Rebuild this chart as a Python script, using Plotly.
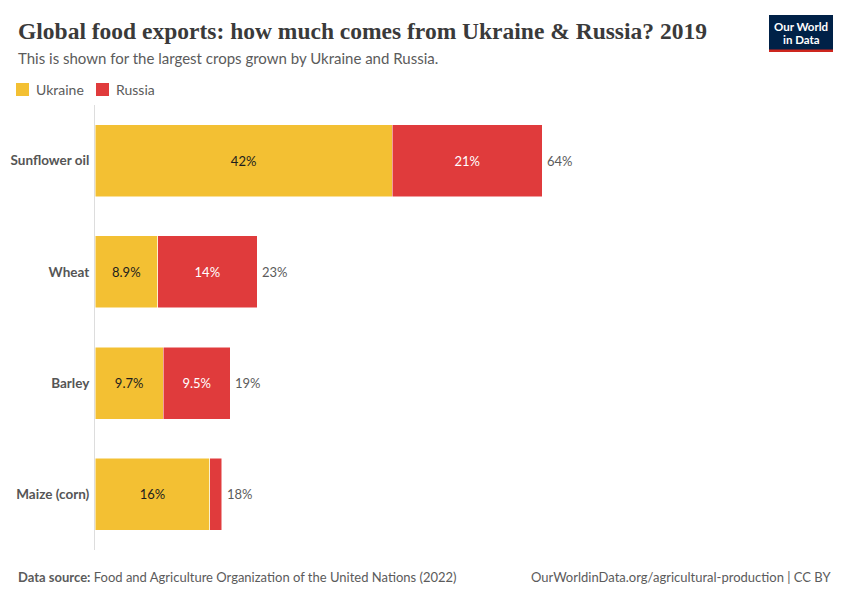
import plotly.graph_objects as go

crops = ["Sunflower oil", "Wheat", "Barley", "Maize (corn)"]
ukraine = [42.4, 8.92, 9.74, 16.4]
russia = [21.4, 14.2, 9.54, 1.65]

UA_COL = "#F3C033"
RU_COL = "#E03B3C"

L, R, T, B = 95, 54, 105, 50
W, H = 850, 600


def px(x):  # pixel -> paper x
    return (x - L) / (W - L - R)


def py(y):  # pixel -> paper y
    return (H - B - y) / (H - T - B)


def fmt(v):
    # two significant figures like the original labels
    return f"{v:.1f}%" if v < 10 else f"{v:.0f}%"


totals = [u + r for u, r in zip(ukraine, russia)]

fig = go.Figure()
fig.add_trace(go.Bar(
    y=crops, x=ukraine, orientation="h", name="Ukraine",
    marker=dict(color=UA_COL, line=dict(width=0.5, color="#ffffff")),
    text=[fmt(v) for v in ukraine], textposition="inside",
    insidetextanchor="middle", textfont=dict(color="#1d1d1d", size=13, family="Lato"),
))
fig.add_trace(go.Bar(
    y=crops, x=russia, orientation="h", name="Russia",
    marker=dict(color=RU_COL, line=dict(width=0.5, color="#ffffff")),
    text=[fmt(v) for v in russia], textposition="inside",
    insidetextanchor="middle", textfont=dict(color="#ffffff", size=13, family="Lato"),
))

# total labels to the right of each bar
for c, t in zip(crops, totals):
    fig.add_annotation(x=t, y=c, text=fmt(t), showarrow=False, xanchor="left",
                       xshift=3, font=dict(size=13, color="#5b5b5b", family="Lato"))

# title, subtitle
fig.add_annotation(x=px(16), y=py(31), xref="paper", yref="paper", xanchor="left",
                   yanchor="middle", showarrow=False,
                   text="<b>Global food exports: how much comes from Ukraine &amp; Russia? 2019</b>",
                   font=dict(family="Liberation Serif", size=23.5, color="#3a3a3a"))
fig.add_annotation(x=px(16), y=py(58), xref="paper", yref="paper", xanchor="left",
                   yanchor="middle", showarrow=False,
                   text="This is shown for the largest crops grown by Ukraine and Russia.",
                   font=dict(family="Lato", size=15, color="#5b5b5b"))

# legend
for x0, col, name in [(16, UA_COL, "Ukraine"), (96, RU_COL, "Russia")]:
    fig.add_shape(type="rect", xref="paper", yref="paper",
                  x0=px(x0), x1=px(x0 + 13), y0=py(96), y1=py(83),
                  fillcolor=col, line=dict(width=0))
    fig.add_annotation(x=px(x0 + 18), y=py(89.5), xref="paper", yref="paper",
                       xanchor="left", yanchor="middle", showarrow=False, text=name,
                       font=dict(family="Lato", size=14, color="#5b5b5b"))

# logo
fig.add_shape(type="rect", xref="paper", yref="paper", x0=px(769), x1=px(833),
              y0=py(52), y1=py(15), fillcolor="#002147", line=dict(width=0))
fig.add_shape(type="rect", xref="paper", yref="paper", x0=px(769), x1=px(833),
              y0=py(52), y1=py(49.5), fillcolor="#CE261E", line=dict(width=0))
for yy, line in [(26, "Our World"), (39, "in Data")]:
    fig.add_annotation(x=px(801), y=py(yy), xref="paper", yref="paper", showarrow=False,
                       text=f"<b>{line}</b>", xanchor="center", yanchor="middle",
                       font=dict(family="Lato", size=11.5, color="#ffffff"))

# footer
fig.add_annotation(x=px(16), y=py(577), xref="paper", yref="paper", xanchor="left",
                   yanchor="middle", showarrow=False,
                   text="<b>Data source:</b> Food and Agriculture Organization of the United Nations (2022)",
                   font=dict(family="Lato", size=13, color="#5b5b5b"))
fig.add_annotation(x=px(833), y=py(577), xref="paper", yref="paper", xanchor="right",
                   yanchor="middle", showarrow=False,
                   text="OurWorldinData.org/agricultural-production | CC BY",
                   font=dict(family="Lato", size=13, color="#5b5b5b"))

fig.update_layout(
    width=W, height=H, barmode="stack", bargap=0.353,
    margin=dict(l=L, r=R, t=T, b=B),
    plot_bgcolor="#ffffff", paper_bgcolor="#ffffff",
    showlegend=False,
    font=dict(family="Lato"),
    xaxis=dict(range=[0, 100], visible=False, fixedrange=True),
    yaxis=dict(autorange="reversed", showline=True, linecolor="#dddddd",
               linewidth=1, showgrid=False, ticks="", ticklabelstandoff=2,
               tickfont=dict(family="Lato", size=13.5, color="#555555", weight="bold")),
    uniformtext=dict(minsize=12, mode="hide"),
)

# the page's default body margin would shift the figure by 8px
fig.write_html("out.html", config={"displayModeBar": False},
               post_script="document.body.style.margin='0';")
